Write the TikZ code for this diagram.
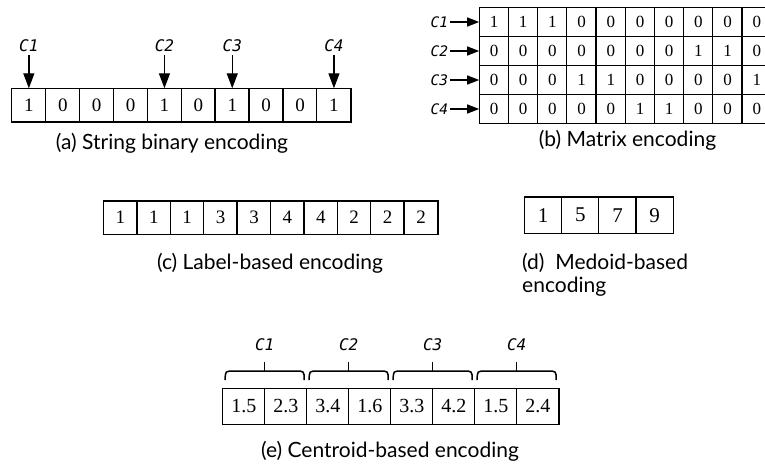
\documentclass[tikz,border=0pt]{standalone}
\usepackage{fontspec}
\setmainfont{Liberation Serif}
\newfontfamily\capfont{Lato}
\newfontfamily\clabfont{DejaVu Sans Mono}[ItalicFont={DejaVu Sans Mono Oblique}]
\usetikzlibrary{arrows.meta,calc}
\tikzset{
  cell/.style={minimum height=#1, inner sep=0pt, anchor=north west, font=\fontsize{19}{21}\selectfont},
  grid/.style={line width=1.3pt},
  caption/.style={font=\capfont\fontsize{21}{24}\selectfont, inner sep=0pt},
  clab/.style={font=\clabfont\itshape\fontsize{16}{18}\selectfont, inner sep=0pt},
  bigarrow/.style={line width=1.3pt, -{Triangle[length=15pt,width=11pt]}},
  smallarrow/.style={line width=1.3pt, -{Triangle[length=12pt,width=9pt]}},
  bracepath/.style={line width=1.5pt}
}
\begin{document}
\begin{tikzpicture}[x=1pt,y=-1pt]
\clip (0,0) rectangle (765,463);
% (a)
\foreach \v [count=\i from 0] in {1,0,0,0,1,0,1,0,0,1}{
  \node[cell=33.4pt, minimum width=33.9pt] (a\i) at ({11.7+33.9*\i},88.3) {\v};
}
\draw[grid] (a0.north west) rectangle (a9.south east);
\foreach \i in {1,...,9}{\draw[grid] (a\i.north west) -- (a\i.south west);}
\foreach \i/\c in {0/1,4/2,6/3,9/4}{
  \coordinate (at\i) at ($(a\i.north)+(0,-33)$);
  \node[clab] (al\i) at ($(a\i.north)+(0,-43)$) {C\c};
  \draw[bigarrow] (at\i) -- (a\i.north);
}
\node[caption] (capa) at (172,143) {(a) String binary encoding};
% (b)
\foreach \row [count=\r from 0] in {{1,1,1,0,0,0,0,0,0,0},{0,0,0,0,0,0,0,1,1,0},{0,0,0,1,1,0,0,0,0,1},{0,0,0,0,0,1,1,0,0,0}}{
  \foreach \v [count=\i from 0] in \row {
    \node[cell=29pt, minimum width=29.2pt, font=\fontsize{17}{19}\selectfont] (b\r-\i) at ({479.2+29.2*\i},{7.3+29*\r}) {\v};
  }
}
\draw[grid] (b0-0.north west) rectangle (b3-9.south east);
\foreach \i in {1,...,9}{\draw[grid] (b0-\i.north west) -- (b3-\i.south west);}
\foreach \r in {1,2,3}{\draw[grid] (b\r-0.north west) -- (b\r-9.north east);}
\foreach \r [evaluate=\r as \c using int(\r+1)] in {0,1,2,3}{
  \coordinate (bt\r) at ($(b\r-0.west)+(-29,0)$);
  \node[clab, anchor=east, font=\clabfont\itshape\fontsize{14.5}{16}\selectfont] (bl\r) at ($(b\r-0.west)+(-31,0)$) {C\c};
  \draw[smallarrow] (bt\r) -- (b\r-0.west);
}
\node[caption] (capb) at (627.5,140) {(b) Matrix encoding};
% (c)
\foreach \v [count=\i from 0] in {1,1,1,3,3,4,4,2,2,2}{
  \node[cell=33pt, minimum width=33.4pt] (c\i) at ({103.5+33.4*\i},201) {\v};
}
\draw[grid] (c0.north west) rectangle (c9.south east);
\foreach \i in {1,...,9}{\draw[grid] (c\i.north west) -- (c\i.south west);}
\node[caption] (capc) at (270,263) {(c) Label-based encoding};
% (d)
\foreach \v [count=\i from 0] in {1,5,7,9}{
  \node[cell=36pt, minimum width=37.2pt, font=\fontsize{21}{23}\selectfont] (d\i) at ({524.3+37.2*\i},197) {\v};
}
\draw[grid] (d0.north west) rectangle (d3.south east);
\foreach \i in {1,2,3}{\draw[grid] (d\i.north west) -- (d\i.south west);}
\node[caption, anchor=west] (capd1) at (522,263) {(d)\ \ Medoid-based};
\node[caption, anchor=west] (capd2) at (522,287) {encoding};
% (e)
\foreach \v [count=\i from 0] in {1.5,2.3,3.4,1.6,3.3,4.2,1.5,2.4}{
  \node[cell=36pt, minimum width=42pt, font=\fontsize{20}{22}\selectfont] (e\i) at ({222.7+42*\i},388.3) {\v};
}
\draw[grid] (e0.north west) rectangle (e7.south east);
\foreach \i in {1,...,7}{\draw[grid] (e\i.north west) -- (e\i.south west);}
\foreach \k [evaluate=\k as \c using int(\k+1)] in {0,1,2,3}{
  \pgfmathsetmacro{\xa}{222.7+84*\k+2.5}
  \pgfmathsetmacro{\xb}{222.7+84*\k+81.5}
  \pgfmathsetmacro{\xm}{222.7+84*\k+42}
  \coordinate (bl\k) at (\xa,380);
  \coordinate (br\k) at (\xb,380);
  \coordinate (bm\k) at (\xm,371);
  \draw[bracepath] (bl\k) .. controls (\xa,371) .. (\xa+9,371) -- (\xb-9,371) .. controls (\xb,371) .. (br\k);
  \draw[bracepath] (bm\k) -- ++(0,-9);
  \node[clab] (el\k) at (\xm,345) {C\c};
}
\node[caption] (cape) at (390,451.5) {(e) Centroid-based encoding};
\end{tikzpicture}
\end{document}
